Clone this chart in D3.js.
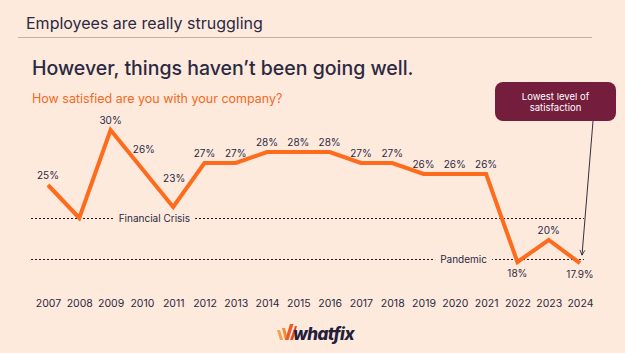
<!DOCTYPE html>
<html>
<head>
<meta charset="utf-8">
<script src="https://cdn.jsdelivr.net/npm/d3@7"></script>
<style>
  html, body { margin: 0; padding: 0; background: #fee9dd; }
  svg { display: block; font-family: Inter, "Open Sans", sans-serif; }
</style>
</head>
<body>
<svg id="chart"></svg>
<script>
// Satisfaction line chart, 2007-2024

const years = [2007, 2008, 2009, 2010, 2011, 2012, 2013, 2014, 2015, 2016,
               2017, 2018, 2019, 2020, 2021, 2022, 2023, 2024];
const satisfaction = [25, 22, 30, 26.5, 23, 27, 27, 28, 28, 28,
                      27, 27, 26, 26, 26, 18, 20, 17.9];
const pointLabels = ['25%', '', '30%', '26%', '23%', '27%', '27%', '28%', '28%', '28%',
                     '27%', '27%', '26%', '26%', '26%', '18%', '20%', '17.9%'];
const labelsBelow = [2022, 2024];

const refLines = [
  { label: 'Financial Crisis', value: 22, at: 2010.4 },
  { label: 'Pandemic', value: 18.3, at: 2020.28 }
];

const headerText = 'Employees are really struggling';
const titleText = 'However, things haven\u2019t been going well.';
const subtitleText = 'How satisfied are you with your company?';
const calloutLines = ['Lowest level of', 'satisfaction'];

// --- Setup ---
const W = 625, H = 353;
const COLORS = {
  bg: '#fee9dd',
  ink: '#2b2942',
  line: '#ff6b1c',
  sub: '#f26a21',
  callout: '#751d3d',
  rule: '#bfb2a6'
};

// labels sitting on the steep 2009-2011 drop are lifted off the line
const labelNudge = { 2010: [2, -16], 2011: [1, -25] };

const svg = d3.select('#chart')
  .attr('width', W)
  .attr('height', H)
  .attr('viewBox', `0 0 ${W} ${H}`);

svg.append('rect').attr('width', W).attr('height', H).attr('fill', COLORS.bg);

// Header
svg.append('text')
  .attr('x', 26).attr('y', 29)
  .style('font-size', '16px')
  .style('fill', COLORS.ink)
  .text(headerText);

svg.append('line')
  .attr('x1', 18).attr('x2', 592)
  .attr('y1', 37.5).attr('y2', 37.5)
  .attr('stroke', COLORS.rule)
  .attr('stroke-width', 1);

svg.append('text')
  .attr('x', 32).attr('y', 75)
  .style('font-size', '19.5px')
  .style('font-weight', 500)
  .style('fill', COLORS.ink)
  .text(titleText);

svg.append('text')
  .attr('x', 32).attr('y', 103)
  .style('font-size', '12.5px')
  .style('fill', COLORS.sub)
  .text(subtitleText);

// --- Scales ---
const x = d3.scaleLinear()
  .domain(d3.extent(years))
  .range([48, 580]);

const y = d3.scaleLinear()
  .domain([18, 28])
  .range([262, 152]);

const data = years.map((yr, i) => ({ year: yr, value: satisfaction[i], label: pointLabels[i] }));

// Reference lines (dotted) with labels
const refG = svg.append('g');
refLines.forEach(r => {
  const yy = Math.round(y(r.value)) + 0.5;
  refG.append('line')
    .attr('x1', x.range()[0] - 17)
    .attr('x2', x.range()[1] + 4)
    .attr('y1', yy).attr('y2', yy)
    .attr('stroke', '#1c1a2a')
    .attr('stroke-width', 1)
    .attr('stroke-dasharray', '2,2');
  const t = refG.append('text')
    .attr('x', x(r.at))
    .attr('y', yy + 3.5)
    .attr('text-anchor', 'middle')
    .style('font-size', '10px')
    .style('fill', COLORS.ink)
    .text(r.label);
  const bb = t.node().getBBox();
  refG.insert('rect', () => t.node())
    .attr('x', bb.x - 5).attr('y', bb.y)
    .attr('width', bb.width + 10).attr('height', bb.height)
    .attr('fill', COLORS.bg);
});

// Line
const line = d3.line()
  .x(d => x(d.year))
  .y(d => y(d.value));

svg.append('path')
  .datum(data)
  .attr('d', line)
  .attr('fill', 'none')
  .attr('stroke', COLORS.line)
  .attr('stroke-width', 4)
  .attr('stroke-linejoin', 'miter');

// Point labels
svg.append('g')
  .selectAll('text')
  .data(data.filter(d => d.label))
  .join('text')
  .attr('x', d => x(d.year) + (labelNudge[d.year] ? labelNudge[d.year][0] : 0))
  .attr('y', d => {
    if (labelsBelow.includes(d.year)) return y(d.value) + 15;
    return y(d.value) + (labelNudge[d.year] ? labelNudge[d.year][1] : -6);
  })
  .attr('text-anchor', 'middle')
  .style('font-size', '10px')
  .style('fill', COLORS.ink)
  .text(d => d.label);

// X axis (labels only)
const xAxis = svg.append('g')
  .attr('transform', 'translate(0,293)')
  .call(d3.axisBottom(x).tickValues(years).tickFormat(d3.format('d')).tickSize(0).tickPadding(7));
xAxis.select('.domain').remove();
xAxis.selectAll('.tick text')
  .style('font-family', 'Inter, sans-serif')
  .style('font-size', '10.5px')
  .style('fill', COLORS.ink);

// Callout box + arrow
const last = data[data.length - 1];
const box = { x: 495, y: 82, w: 121, h: 39 };
svg.append('rect')
  .attr('x', box.x).attr('y', box.y)
  .attr('width', box.w).attr('height', box.h)
  .attr('rx', 8).attr('ry', 8)
  .attr('fill', COLORS.callout);

svg.append('text')
  .attr('text-anchor', 'middle')
  .style('font-size', '9.5px')
  .style('fill', '#ffffff')
  .selectAll('tspan')
  .data(calloutLines)
  .join('tspan')
  .attr('x', box.x + box.w / 2)
  .attr('y', (d, i) => box.y + 18 + i * 10.5)
  .text(d => d);

svg.append('defs').append('marker')
  .attr('id', 'arrow')
  .attr('viewBox', '0 0 10 10')
  .attr('refX', 9).attr('refY', 5)
  .attr('markerWidth', 7).attr('markerHeight', 7)
  .attr('orient', 'auto')
  .append('path')
  .attr('d', 'M1,1 L9,5 L1,9')
  .attr('fill', 'none')
  .attr('stroke', '#1c1a2a')
  .attr('stroke-width', 1.2);

svg.append('line')
  .attr('x1', 593).attr('y1', box.y + box.h)
  .attr('x2', x(last.year) + 2).attr('y2', y(last.value) - 8)
  .attr('stroke', '#1c1a2a')
  .attr('stroke-width', 0.9)
  .attr('marker-end', 'url(#arrow)');

// Logo
const logo = svg.append('g').attr('transform', 'translate(277,322)');
logo.append('path')
  .attr('d', 'M0,8 L3,8 L6,18 L3,18 Z')
  .attr('fill', '#f8a04a');
logo.append('path')
  .attr('d', 'M5,6 L8,6 L11,18 L8,18 Z')
  .attr('fill', '#f58a3a');
logo.append('path')
  .attr('d', 'M8,18 L13,2 L16.5,2 L11.5,18 Z')
  .attr('fill', '#ef5b25');
logo.append('path')
  .attr('d', 'M13,18 L18,4 L20,4 L16,18 Z')
  .attr('fill', '#e9481f');
svg.append('text')
  .attr('x', 293).attr('y', 340)
  .style('font-size', '17px')
  .style('font-weight', 800)
  .style('font-style', 'italic')
  .style('letter-spacing', '-0.5px')
  .style('fill', '#22203a')
  .text('whatfix');
</script>
</body>
</html>
